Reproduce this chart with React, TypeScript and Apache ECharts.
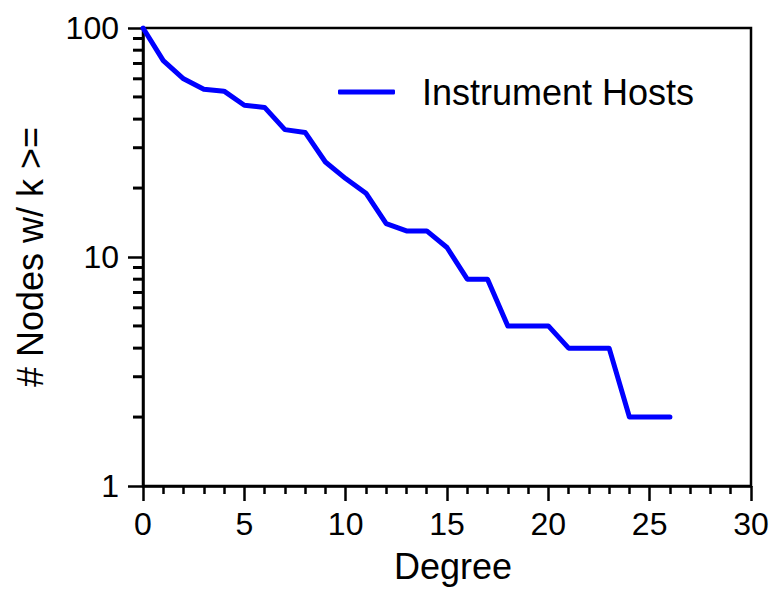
import React, { useEffect, useRef } from "react";
import * as echarts from "echarts";

const degrees = [0, 1, 2, 3, 4, 5, 6, 7, 8, 9, 10, 11, 12, 13, 14, 15, 16, 17, 18, 19, 20, 21, 22, 23, 24, 25, 26];
const nodeCounts = [100, 72, 60, 54, 53, 46, 45, 36, 35, 26, 22, 19, 14, 13, 13, 11, 8, 8, 5, 5, 5, 4, 4, 4, 2, 2, 2];
const yMinorTicks = [2, 3, 4, 5, 6, 7, 8, 9, 20, 30, 40, 50, 60, 70, 80, 90];
const seriesName = "Instrument Hosts";

const FONT = "Liberation Sans, Arial, sans-serif";

export default function App() {
  const ref = useRef<HTMLDivElement>(null);
  useEffect(() => {
    if (!ref.current) return;
    const chart = echarts.init(ref.current, null, { renderer: "svg" });
    chart.setOption({
      animation: false,
      backgroundColor: "#fff",
      grid: {
        left: 143,
        right: 31,
        top: 28,
        bottom: 102,
        show: true,
        borderColor: "#000",
        borderWidth: 2.5,
        backgroundColor: "transparent",
      },
      legend: {
        left: 333,
        top: 69,
        itemWidth: 57,
        itemHeight: 5,
        data: [{ name: seriesName, icon: "roundRect" }],
        textStyle: { fontFamily: FONT, fontSize: 36, color: "#000", padding: [0, 0, 0, 22] },
      },
      xAxis: {
        type: "value",
        min: 0,
        max: 30,
        interval: 5,
        name: "Degree",
        nameLocation: "middle",
        nameGap: 62,
        nameTextStyle: { fontFamily: FONT, fontSize: 36, color: "#000", padding: [0, 0, 0, 12] },
        axisLine: { show: true, onZero: false, lineStyle: { color: "#000", width: 2.5 } },
        axisTick: { show: true, inside: false, length: 15, lineStyle: { color: "#000", width: 2.5 } },
        minorTick: { show: true, splitNumber: 5, length: 8, lineStyle: { color: "#000", width: 2.5 } },
        splitLine: { show: false },
        axisLabel: { fontFamily: FONT, fontSize: 32, color: "#000", margin: 22 },
      },
      yAxis: {
        type: "log",
        logBase: 10,
        min: 1,
        max: 100,
        name: "# Nodes w/ k >=",
        nameLocation: "middle",
        nameGap: 95,
        nameRotate: 90,
        nameTextStyle: { fontFamily: FONT, fontSize: 36, color: "#000" },
        axisLine: { show: true, lineStyle: { color: "#000", width: 2.5 } },
        axisTick: { show: true, inside: false, length: 15, lineStyle: { color: "#000", width: 2.5 } },
        minorTick: { show: false },
        splitLine: { show: false },
        axisLabel: { fontFamily: FONT, fontSize: 32, color: "#000", margin: 24 },
      },
      series: [
        {
          name: seriesName,
          type: "line",
          data: degrees.map((d, i) => [d, nodeCounts[i]]),
          symbol: "none",
          color: "#0000ff",
          lineStyle: { color: "#0000ff", width: 5, cap: "round", join: "round" },
        },
      ],
    });
    const pts = yMinorTicks.map((v) => chart.convertToPixel({ xAxisIndex: 0, yAxisIndex: 0 }, [0, v]) as number[]);
    const minorTickEls: any[] = pts.map((p) => ({
      type: "rect",
      x: p[0] - 10,
      y: p[1] - 1.5,
      z: 100,
      silent: true,
      shape: { x: 0, y: 0, width: 10, height: 3 },
      style: { fill: "#000", stroke: "none" },
    }));
    chart.setOption({ graphic: { elements: minorTickEls } });
    return () => chart.dispose();
  }, []);
  return (
    <div
      ref={ref}
      style={{ position: "fixed", left: 0, top: 0, width: 782, height: 589 }}
    />
  );
}
